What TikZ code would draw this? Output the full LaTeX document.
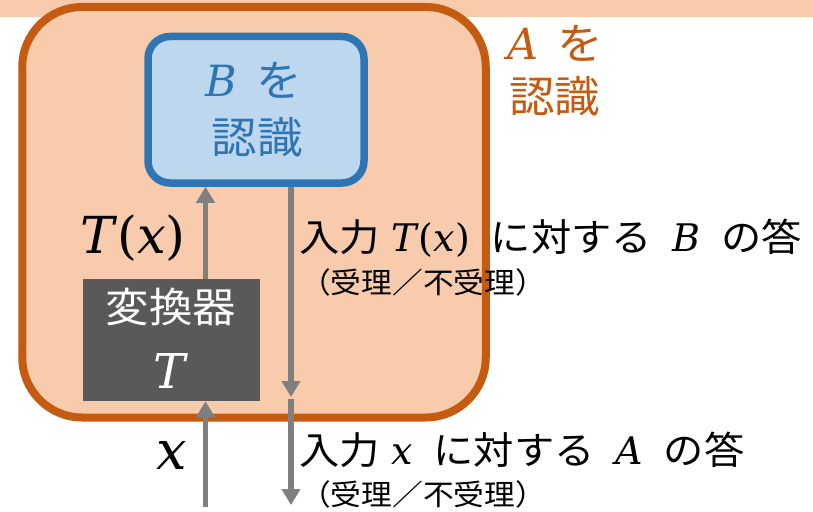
\documentclass[tikz,border=0pt]{standalone}
\usepackage{fontspec}
\newfontfamily\jp[FakeStretch=1.06]{Noto Sans CJK JP}
\newfontfamily\mth{DejaVu Serif}
\usetikzlibrary{arrows.meta}
\definecolor{orA}{HTML}{C55A11}
\definecolor{peach}{HTML}{F8CBAD}
\definecolor{blueB}{HTML}{2E75B6}
\definecolor{lblue}{HTML}{BDD7EE}
\definecolor{dgray}{HTML}{595959}
\definecolor{agray}{HTML}{7F7F7F}
\newcommand{\fs}[1]{\fontsize{#1}{#1}\selectfont}
\newcommand{\mvar}[1]{{\mth\itshape #1\/}}
\newcommand{\mpar}[1]{{\mth #1}}
\newcommand{\Tx}{\mvar{T}\mpar{(}\mvar{x}\mpar{)}}
\begin{document}
\begin{tikzpicture}[x=1pt,y=-1pt,
  outerbox/.style={draw=orA, fill=peach, line width=8pt, rounded corners=60pt, inner sep=0pt},
  bluebox/.style={draw=blueB, fill=lblue, line width=7.5pt, rounded corners=22pt, inner sep=0pt},
  convbox/.style={fill=dgray, inner sep=0pt},
  arr/.style={draw=agray, line width=5.5pt, -{Triangle[width=18pt,length=16pt]}},
  jtext/.style={font=\jp\fs{38}, inner sep=0pt},
  jsmall/.style={font=\jp\fs{29}, inner sep=0pt}]
\useasboundingbox (0,0) rectangle (813,511);
\fill[peach] (0,0) rectangle (813,17);
\node[outerbox, minimum width=463.5pt, minimum height=410.5pt] (A) at (254,212.25) {};
\node[bluebox, minimum width=216pt, minimum height=146.5pt] (B) at (256,109.75) {};
\node[convbox, minimum width=177pt, minimum height=122pt] (T) at (171.5,340) {};
% texts in boxes
\node[font=\jp\fs{43}, text=blueB, inner sep=0pt] (Bl1) at (254,80) {\mvar{B}\hspace{0.45em}を};
\node[font=\jp\fs{43}, text=blueB, inner sep=0pt] (Bl2) at (257,137) {認識};
\node[font=\jp\fs{41}, text=white, inner sep=0pt] (Tl1) at (171,307) {変換器};
\node[font=\jp\fs{48}, text=white, inner sep=0pt] (Tl2) at (171,371) {\mvar{T}};
\node[font=\jp\fs{43}, text=orA, inner sep=0pt, anchor=west] (Al1) at (507,43) {\mvar{A}\hspace{0.45em}を};
\node[font=\jp\fs{43}, text=orA, inner sep=0pt, anchor=west] (Al2) at (509,96) {認識};
% coordinates
\coordinate (xin) at (205.5,507);
\coordinate (dtop) at (291,0);
\coordinate (dmid) at (291,397);
\coordinate (dmid2) at (291,398.5);
\coordinate (dend) at (291,505);
% arrows
\draw[arr] (xin) -- (T.south -| xin);
\draw[arr] (T.north -| xin) -- (B.south -| xin);
\draw[arr] (B.south -| dtop) -- (dmid);
\draw[arr] (dmid2) -- (dend);
% labels
\node[font=\jp\fs{51}, inner sep=0pt] (tx) at (133,238) {\Tx};
\node[font=\jp\fs{54}, inner sep=0pt] (xl) at (172,455) {\mvar{x}};
\node[jtext, anchor=west] (r1) at (299,238) {入力\hspace{0.3em}\Tx\hspace{0.55em}に対する\hspace{0.55em}\mvar{B}\hspace{0.55em}の答};
\node[jsmall, anchor=west] (r2) at (300,282) {（受理／不受理）};
\node[jtext, anchor=west] (r3) at (299,450) {入力\hspace{0.3em}\mvar{x}\hspace{0.55em}に対する\hspace{0.55em}\mvar{A}\hspace{0.55em}の答};
\node[jsmall, anchor=west] (r4) at (300,494) {（受理／不受理）};
\end{tikzpicture}
\end{document}
